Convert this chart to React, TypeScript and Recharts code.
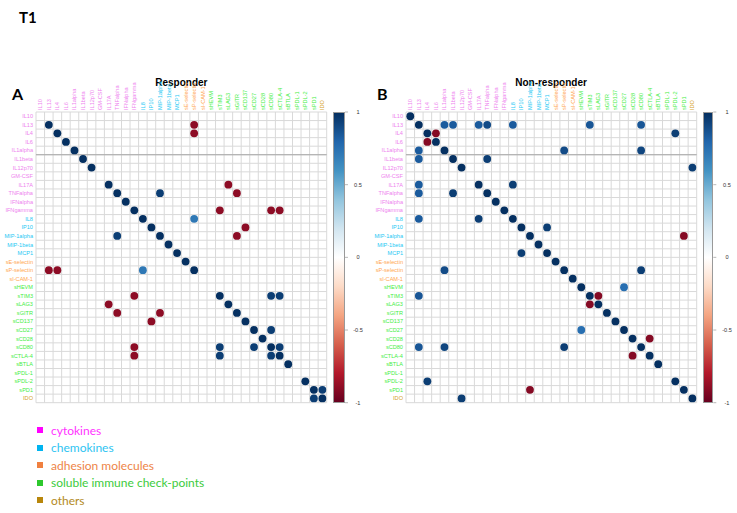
import React from 'react';
import { ScatterChart, Scatter, XAxis, YAxis, ReferenceLine } from 'recharts';

const variables = ['IL10','IL13','IL4','IL6','IL1alpha','IL1beta','IL12p70','GM-CSF','IL17A','TNFalpha','IFNalpha','IFNgamma','IL8','IP10','MIP-1alpha','MIP-1beta','MCP1','sE-selectin','sP-selectin','sI-CAM-1','sHEVM','sTIM3','sLAG3','sGITR','sCD137','sCD27','sCD28','sCD80','sCTLA-4','sBTLA','sPDL-1','sPDL-2','sPD1','IDO'];

const variableGroups = ['cyto','cyto','cyto','cyto','cyto','cyto','cyto','cyto','cyto','cyto','cyto','cyto','chemo','chemo','chemo','chemo','chemo','adh','adh','adh','chk','chk','chk','chk','chk','chk','chk','chk','chk','chk','chk','chk','chk','oth'];

const labelColors: Record<string, string> = { cyto: '#EE82EE', chemo: '#1CC8F4', adh: '#FFA650', chk: '#44EE44', oth: '#D4A22A' };

// [row, col, r]
const responderCorr: [number, number, number][] = [
  [1,1,1],[2,2,1],[3,3,1],[4,4,1],[5,5,1],[6,6,1],[8,8,1],[9,9,1],[10,10,1],[11,11,1],[12,12,1],[13,13,1],[14,14,1],[15,15,1],[16,16,1],[17,17,1],[18,18,1],
  [21,21,1],[22,22,1],[23,23,1],[24,24,1],[25,25,1],[26,26,1],[27,27,1],[28,28,1],[29,29,1],[31,31,1],[32,32,1],[33,33,1],
  [9,14,0.95],[14,9,0.95],
  [1,18,-0.9],[18,1,-0.9],[2,18,-0.9],[18,2,-0.9],
  [12,18,0.72],[18,12,0.72],
  [11,21,-0.9],[21,11,-0.9],[8,22,-0.9],[22,8,-0.9],[9,23,-0.9],[23,9,-0.9],[14,23,-0.9],[23,14,-0.9],
  [13,24,-0.9],[24,13,-0.9],[11,27,-0.9],[27,11,-0.9],[11,28,-0.9],[28,11,-0.9],
  [21,27,0.95],[27,21,0.95],[21,28,0.95],[28,21,0.95],[25,27,0.95],[27,25,0.95],[27,28,0.95],[28,27,0.95],
  [32,33,0.95],[33,32,0.95],
];

const nonResponderCorr: [number, number, number][] = [
  [0,0,1],[1,1,1],[2,2,1],[3,3,1],[4,4,1],[5,5,1],[6,6,1],[8,8,1],[9,9,1],[10,10,1],[11,11,1],[12,12,1],[13,13,1],[14,14,1],[15,15,1],[16,16,1],[17,17,1],[18,18,1],
  [19,19,1],[20,20,1],[21,21,1],[22,22,1],[23,23,1],[24,24,1],[25,25,1],[26,26,1],[27,27,1],[28,28,1],[29,29,1],[31,31,1],[32,32,1],[33,33,1],
  [1,4,0.84],[4,1,0.84],[1,5,0.84],[5,1,0.84],[1,8,0.84],[8,1,0.84],[1,9,0.9],[9,1,0.84],[1,12,0.84],[12,1,0.84],
  [2,3,-0.92],[3,2,-0.92],
  [5,9,0.95],[9,5,0.95],[8,12,0.95],[12,8,0.95],[13,16,0.95],[16,13,0.95],
  [4,18,0.9],[18,4,0.9],[1,21,0.86],[21,1,0.86],[1,27,0.86],[27,1,0.86],[4,27,0.92],[27,4,0.92],
  [2,31,0.95],[31,2,0.95],[14,32,-0.92],[32,14,-0.92],[6,33,0.95],[33,6,0.95],
  [18,27,0.95],[27,18,0.95],[20,25,0.76],[25,20,0.76],
  [21,22,-0.92],[22,21,-0.92],[26,28,-0.92],[28,26,-0.92],
];

const colorbarTicks = [-1, -0.5, 0, 0.5, 1];

const paletteStops = ['#67001F','#B2182B','#D6604D','#F4A582','#FDDBC7','#FFFFFF','#D1E5F0','#92C5DE','#4393C3','#2166AC','#053061'];

const legendItems = [
  { label: 'cytokines', square: '#FF00FF', text: '#FF33FF' },
  { label: 'chemokines', square: '#00B4F0', text: '#2EC4F2' },
  { label: 'adhesion molecules', square: '#F08040', text: '#EE8447' },
  { label: 'soluble immune check-points', square: '#2DC82D', text: '#3CCB3C' },
  { label: 'others', square: '#B8860B', text: '#B38A1E' },
];

function hexToRgb(h: string) {
  return [parseInt(h.slice(1, 3), 16), parseInt(h.slice(3, 5), 16), parseInt(h.slice(5, 7), 16)];
}
function corrColor(v: number) {
  const t = ((v + 1) / 2) * (paletteStops.length - 1);
  const i = Math.min(paletteStops.length - 2, Math.floor(t));
  const f = t - i;
  const a = hexToRgb(paletteStops[i]);
  const b = hexToRgb(paletteStops[i + 1]);
  const c = a.map((x, k) => Math.round(x + (b[k] - x) * f));
  return `rgb(${c[0]},${c[1]},${c[2]})`;
}

const CELL = 8.55;
const N = variables.length;
const PLOT = CELL * N;
const TOP = 112;
const indices = variables.map((_, i) => i);
const bounds = [...indices.map((i) => i - 0.5), N - 0.5];

const XTick = (props: any) => {
  const { x, y, payload } = props;
  const i = payload.value;
  return (
    <text transform={`translate(${x + 2},${y}) rotate(-90)`} textAnchor="start" fontSize={5.6} fill={labelColors[variableGroups[i]]} fontFamily="Liberation Sans, Arial, sans-serif">
      {variables[i]}
    </text>
  );
};

const YTick = (props: any) => {
  const { x, y, payload } = props;
  const i = payload.value;
  return (
    <text x={x} y={y + 2} textAnchor="end" fontSize={5.6} fill={labelColors[variableGroups[i]]} fontFamily="Liberation Sans, Arial, sans-serif">
      {variables[i]}
    </text>
  );
};

const Dot = (props: any) => {
  const { cx, cy, payload } = props;
  if (cx == null || cy == null) return null;
  return <circle cx={cx} cy={cy} r={3.9} fill={corrColor(payload.v)} />;
};

function Panel({ corr, left }: { corr: [number, number, number][]; left: number }) {
  const data = corr.map(([r, c, v]) => ({ x: c, y: r, v }));
  const W = 36 + PLOT + 2;
  const H = TOP + PLOT + 6;
  return (
    <div style={{ position: 'absolute', left, top: 0 }}>
      <ScatterChart width={W} height={H} margin={{ top: TOP - 50, left: 0, right: 2, bottom: 6 }}>
        <XAxis type="number" dataKey="x" orientation="top" domain={[-0.5, N - 0.5]} ticks={indices} interval={0} height={50} axisLine={false} tickLine={false} tickSize={0} tickMargin={2} tick={<XTick />} allowDataOverflow />
        <YAxis type="number" dataKey="y" reversed domain={[-0.5, N - 0.5]} ticks={indices} interval={0} width={36} axisLine={false} tickLine={false} tickSize={0} tickMargin={3} tick={<YTick />} allowDataOverflow />
        {bounds.map((b) => (
          <ReferenceLine key={'v' + b} x={b} stroke="#D9D9D9" strokeWidth={1} ifOverflow="visible" />
        ))}
        {bounds.map((b) => (
          <ReferenceLine key={'h' + b} y={b} stroke="#D9D9D9" strokeWidth={1} ifOverflow="visible" />
        ))}
        <ReferenceLine y={4.5} stroke="#A8A8A8" strokeWidth={1} />
        <Scatter data={data} shape={<Dot />} isAnimationActive={false} />
      </ScatterChart>
    </div>
  );
}

function ColorBar({ left, width, labelX }: { left: number; width: number; labelX: number }) {
  const yOf = (v: number) => TOP + ((1 - v) / 2) * PLOT;
  return (
    <>
      <div style={{ position: 'absolute', left, top: TOP, width, height: PLOT, background: `linear-gradient(to top, ${paletteStops.join(', ')})`, border: '0.6px solid #999', boxSizing: 'border-box' }} />
      <svg style={{ position: 'absolute', left: 0, top: 0 }} width={737} height={513}>
        {colorbarTicks.map((t) => (
          <g key={t}>
            <line x1={left + width} x2={left + width + 3} y1={yOf(t)} y2={yOf(t)} stroke="#888" strokeWidth={0.6} />
            <text x={labelX} y={yOf(t) + 2} textAnchor="middle" fontSize={5.6} fill="#333" fontFamily="Liberation Sans, Arial, sans-serif">{t}</text>
          </g>
        ))}
      </svg>
    </>
  );
}

export default function App() {
  const textFont = 'Liberation Sans, Arial, sans-serif';
  return (
    <div style={{ position: 'absolute', left: 0, top: 0, width: 737, height: 513, background: '#fff', fontFamily: textFont, overflow: 'hidden' }}>
      <div style={{ position: 'absolute', left: 19, top: 8, fontSize: 15, fontWeight: 'bold', fontFamily: 'Lato, sans-serif' }}>T1</div>
      <div style={{ position: 'absolute', left: 12, top: 84, fontSize: 16, fontWeight: 'bold', fontFamily: 'Lato, sans-serif' }}>A</div>
      <div style={{ position: 'absolute', left: 377, top: 84, fontSize: 16, fontWeight: 'bold', fontFamily: 'Lato, sans-serif' }}>B</div>
      <div style={{ position: 'absolute', left: 36, width: PLOT, top: 77, textAlign: 'center', fontSize: 10, fontWeight: 'bold' }}>Responder</div>
      <div style={{ position: 'absolute', left: 405.7, width: PLOT, top: 77, textAlign: 'center', fontSize: 10, fontWeight: 'bold' }}>Non-responder</div>

      <Panel corr={responderCorr} left={0} />
      <Panel corr={nonResponderCorr} left={369.7} />

      <ColorBar left={332.7} width={12.3} labelX={358} />
      <ColorBar left={702.7} width={10.6} labelX={727} />

      {legendItems.map((it, k) => (
        <div key={it.label} style={{ position: 'absolute', left: 37, top: 422 + k * 17.5, height: 16, display: 'flex', alignItems: 'center', fontFamily: 'Lato, sans-serif', fontSize: 12, color: it.text }}>
          <span style={{ display: 'inline-block', width: 6, height: 6, background: it.square, marginRight: 8 }} />
          <span>{it.label}</span>
        </div>
      ))}
    </div>
  );
}
